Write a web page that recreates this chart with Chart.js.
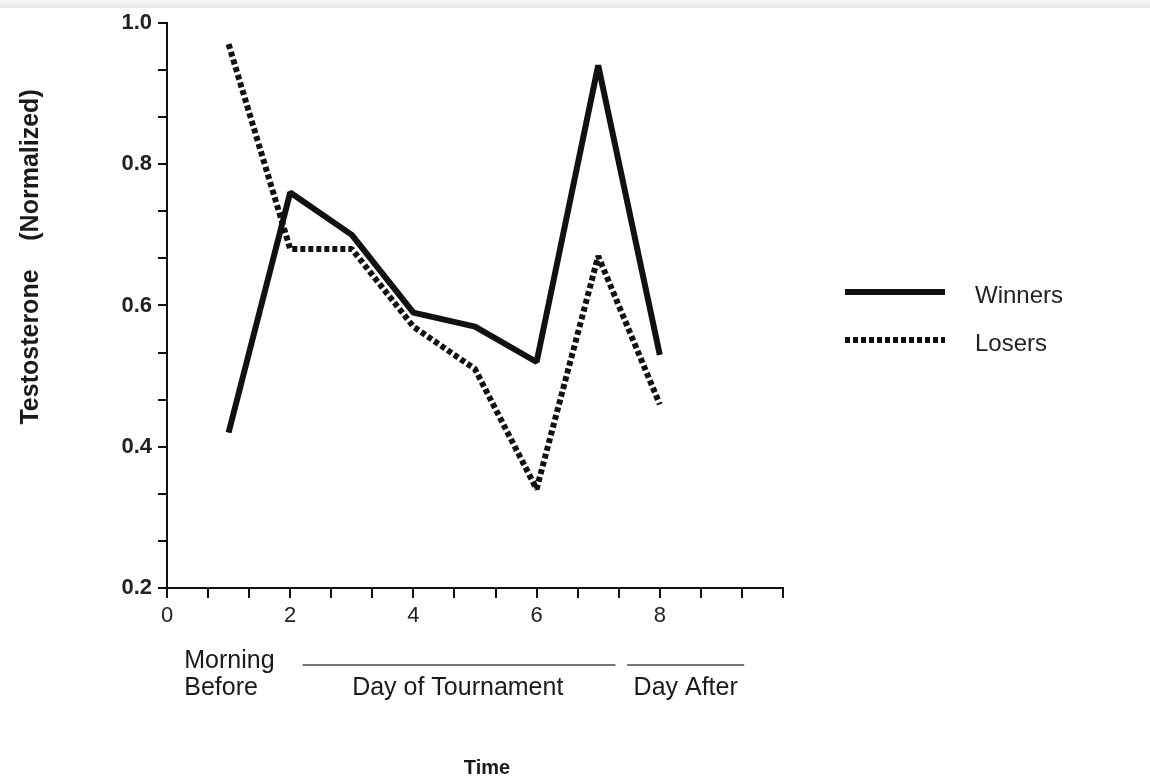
<!DOCTYPE html>
<html>
<head>
<meta charset="utf-8">
<script src="https://cdn.jsdelivr.net/npm/chart.js@4.4.1/dist/chart.umd.min.js"></script>
<style>
  html, body { margin: 0; padding: 0; background: #fff; }
  #wrap { position: relative; width: 1150px; height: 778px; }
  #topband { position: absolute; left: 0; top: 0; width: 1150px; height: 8px;
    background: linear-gradient(#fafafa, #e6e6e6); }
  canvas { position: absolute; left: 0; top: 0; }
</style>
</head>
<body>
<div id="wrap">
  <canvas id="c" width="1150" height="778"></canvas>
  <div id="topband"></div>
</div>
<script>
// ---- Data ----
const timePoints = [1, 2, 3, 4, 5, 6, 7, 8];
const winners = [0.42, 0.76, 0.70, 0.59, 0.57, 0.52, 0.94, 0.53];
const losers  = [0.97, 0.68, 0.68, 0.57, 0.51, 0.34, 0.67, 0.46];
const seriesNames = ['Winners', 'Losers'];
const xTickLabels = ['0', '2', '4', '6', '8'];
const yTickLabels = ['0.2', '0.4', '0.6', '0.8', '1.0'];
const yAxisTitleParts = ['Testosterone', '(Normalized)'];
const xAxisTitle = 'Time';
const periodLabels = ['Morning\nBefore', 'Day of Tournament', 'Day After'];

// ---- Layout / style (not data) ----
const FONT = '"Liberation Sans", Arial, Helvetica, sans-serif';
const INK = '#111';
const periodLayout = [
  { textLeft: 0.28, line: null },
  { textCenter: 4.72, line: [2.2, 7.28] },
  { textCenter: 8.42, line: [7.47, 9.37] }
];

const toPts = (xs, ys) => xs.map((x, i) => ({ x: x, y: ys[i] }));

const annotations = {
  id: 'annotations',
  afterDraw(chart) {
    const ctx = chart.ctx;
    const xs = chart.scales.x;
    const ca = chart.chartArea;
    ctx.save();
    // Y axis title
    ctx.fillStyle = '#1a1a1a';
    ctx.font = 'bold 25px ' + FONT;
    ctx.textAlign = 'center';
    ctx.textBaseline = 'middle';
    ctx.translate(31, 0);
    ctx.rotate(-Math.PI / 2);
    ctx.fillText(yAxisTitleParts[0], -347, 0);
    ctx.fillText(yAxisTitleParts[1], -165, 0);
    ctx.setTransform(1, 0, 0, 1, 0, 0);
    // X axis title
    ctx.font = 'bold 20px ' + FONT;
    ctx.fillText(xAxisTitle, 487, 768);
    // Period labels
    ctx.font = '25px ' + FONT;
    ctx.fillStyle = '#1a1a1a';
    ctx.textBaseline = 'alphabetic';
    periodLabels.forEach((lab, i) => {
      const lay = periodLayout[i];
      const lines = lab.split('\n');
      if (lay.textLeft !== undefined) {
        ctx.textAlign = 'left';
        ctx.fillText(lines[0], xs.getPixelForValue(lay.textLeft), 668);
        ctx.fillText(lines[1], xs.getPixelForValue(lay.textLeft), 695);
      } else {
        ctx.textAlign = 'center';
        ctx.fillText(lines[0], xs.getPixelForValue(lay.textCenter), 695);
      }
      if (lay.line) {
        ctx.strokeStyle = '#777';
        ctx.lineWidth = 1.8;
        ctx.beginPath();
        ctx.moveTo(xs.getPixelForValue(lay.line[0]), 665);
        ctx.lineTo(xs.getPixelForValue(lay.line[1]), 665);
        ctx.stroke();
      }
    });
    // Legend
    chart.data.datasets.forEach((ds, i) => {
      const y = 292 + i * 48;
      ctx.strokeStyle = INK;
      ctx.lineWidth = ds.borderWidth;
      ctx.setLineDash(ds.borderDash || []);
      ctx.lineCap = 'butt';
      ctx.beginPath();
      ctx.moveTo(ca.right + 62, y);
      ctx.lineTo(ca.right + 162, y);
      ctx.stroke();
      ctx.setLineDash([]);
      ctx.fillStyle = '#222';
      ctx.font = '24px ' + FONT;
      ctx.textAlign = 'left';
      ctx.textBaseline = 'alphabetic';
      ctx.fillText(ds.label, ca.right + 192, y + 11);
    });
    ctx.restore();
  }
};

new Chart(document.getElementById('c'), {
  type: 'scatter',
  data: {
    datasets: [
      { label: seriesNames[0], data: toPts(timePoints, winners), showLine: true,
        borderColor: INK, backgroundColor: INK, borderWidth: 6, pointRadius: 0,
        borderJoinStyle: 'bevel', borderCapStyle: 'butt' },
      { label: seriesNames[1], data: toPts(timePoints, losers), showLine: true,
        borderColor: INK, backgroundColor: INK, borderWidth: 6, pointRadius: 0,
        borderDash: [5, 3], borderJoinStyle: 'bevel', borderCapStyle: 'butt' }
    ]
  },
  options: {
    responsive: false,
    animation: false,
    layout: { padding: { left: 0, top: 23, right: 367, bottom: 0 } },
    plugins: { legend: { display: false }, tooltip: { enabled: false } },
    scales: {
      x: {
        type: 'linear', min: 0, max: 10,
        afterBuildTicks(s) {
          const t = [];
          for (let k = 0; k <= 15; k++) t.push({ value: k * 2 / 3 });
          s.ticks = t;
        },
        afterFit(s) { s.height = 190; },
        ticks: {
          autoSkip: false, maxRotation: 0, padding: 5, color: '#222',
          font: { family: FONT, size: 22 },
          callback(v, i) {
            const idx = i / 3;
            return (i % 3 === 0 && idx < xTickLabels.length) ? xTickLabels[idx] : '';
          }
        },
        grid: { drawOnChartArea: false, drawTicks: true, tickLength: 10, color: INK, lineWidth: 2 },
        border: { display: true, color: INK, width: 2 }
      },
      y: {
        type: 'linear', min: 0.2, max: 1.0,
        afterBuildTicks(s) {
          const t = [];
          for (let k = 0; k <= 12; k++) t.push({ value: 0.2 + k * 0.2 / 3 });
          s.ticks = t;
        },
        afterFit(s) { s.width = 167; },
        ticks: {
          autoSkip: false, padding: 6, color: '#222',
          font: { family: FONT, size: 22, weight: 'bold' },
          callback(v, i) {
            const idx = i / 3;
            return (i % 3 === 0) ? yTickLabels[idx] : '';
          }
        },
        grid: { drawOnChartArea: false, drawTicks: true, tickLength: 9, color: INK, lineWidth: 2 },
        border: { display: true, color: INK, width: 2 }
      }
    }
  },
  plugins: [annotations]
});
</script>
</body>
</html>
